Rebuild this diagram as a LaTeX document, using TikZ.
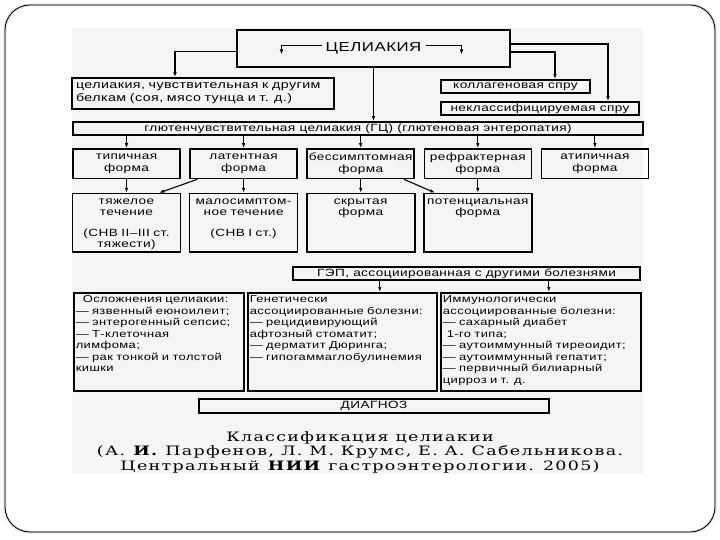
\documentclass[tikz,border=0pt]{standalone}
\usepackage{fontspec}
\setmainfont{Liberation Sans}[FakeStretch=1.3,LetterSpace=4]
\newfontfamily\capfont{DejaVu Serif}[FakeStretch=1.35,LetterSpace=10]
\usetikzlibrary{arrows.meta,positioning}

\begin{document}
\begin{tikzpicture}[x=1bp,y=-1bp,node distance=8.5bp,
  box/.style={draw,line width=1.6bp,align=center,inner sep=1bp,font=\fontsize{10.5}{12}\selectfont},
  bar/.style={box,inner sep=0pt,minimum height=13bp},
  form/.style={box,text width=105bp,minimum height=29.5bp},
  deep/.style={box,text width=105bp,text height=9bp,text depth=46.5bp,inner sep=1.5bp,font=\fontsize{10.5}{11.5}\selectfont},
  list/.style={box,align=left,anchor=north west,inner sep=2bp,text height=8bp,text depth=86bp,font=\fontsize{10}{11.5}\selectfont},
  flow/.style={-{Latex[length=5bp,width=3.5bp]},line width=1.1bp}]
\useasboundingbox (0,0) rectangle (720,540);
\fill[black!4] (72,28) rectangle (643,474);
\draw[black!15,line width=2.5bp,rounded corners=25bp] (5,5) rectangle (715,532);
\draw[line width=0.8bp,rounded corners=25bp] (5,5) rectangle (715,532);
% upper level
\node[box,minimum width=273bp,minimum height=37bp,font=\fontsize{13}{15}\selectfont] (ciel) at (373.5,48.5) {ЦЕЛИАКИЯ};
\node[box,align=left,text width=254bp,inner xsep=4bp,minimum height=31bp,font=\fontsize{11}{13}\selectfont] (prot) at (203,93.5) {целиакия, чувствительная к другим\\белкам (соя, мясо тунца и т. д.)};
\node[bar,minimum width=149bp] (koll) at (515.5,86.5) {коллагеновая спру};
\node[bar,minimum width=198bp] (nekl) at (540,108.5) {неклассифицируемая спру};
\node[bar,minimum width=570bp] (gc) at (358,128.5) {глютенчувствительная целиакия (ГЦ) (глютеновая энтеропатия)};
% forms
\node[form] (tip) at (126.5,163.75) {типичная\\форма};
\node[form,right=of tip] (lat) {латентная\\форма};
\node[form,right=of lat] (bes) {бессимптомная\\форма};
\node[form,right=of bes] (ref) {рефрактерная\\форма};
\node[form,right=of ref] (atip) {атипичная\\форма};
\node[deep,below=13.5bp of tip] (tyaz) {тяжелое\\течение\\[9bp](СНВ II–III ст.\\тяжести)};
\node[deep,below=13.5bp of lat] (malo) {малосимптом-\\ное течение\\[9bp](СНВ I ст.)};
\node[deep,below=13.5bp of bes] (skr) {скрытая\\форма};
\node[deep,below=13.5bp of ref] (pot) {потенциальная\\форма};
% associated diseases
\node[bar,minimum width=347bp] (gep) at (466.5,273.5) {ГЭП, ассоциированная с другими болезнями};
\node[list,text width=166bp] (osl) at (73,292) {\hspace*{7bp}Осложнения целиакии:\\— язвенный еюноилеит;\\— энтерогенный сепсис;\\— Т-клеточная\\лимфома;\\— рак тонкой и толстой\\кишки};
\node[list,text width=185bp] (gen) at (247,292) {Генетически\\ассоциированные болезни:\\— рецидивирующий\\афтозный стоматит;\\— дерматит Дюринга;\\— гипогаммаглобулинемия};
\node[list,text width=196bp] (imm) at (440,292) {Иммунологически\\ассоциированные болезни:\\— сахарный диабет\\\hspace*{4bp}1-го типа;\\— аутоиммунный тиреоидит;\\— аутоиммунный гепатит;\\— первичный билиарный\\цирроз и т. д.};
\node[bar,minimum width=350bp,minimum height=14bp] (diag) at (374,406) {ДИАГНОЗ};
\node[align=center,font=\capfont\fontsize{13}{14.5}\selectfont] (capt) at (360,452) {Классификация целиакии\\(А. \textbf{И.} Парфенов, Л. М. Крумс, Е. А. Сабельникова.\\Центральный \textbf{НИИ} гастроэнтерологии. 2005)};
% connectors
\draw[flow] ([shift={(-52,-3)}]ciel.center) -| ([shift={(-92,6)}]ciel.center);
\draw[flow] ([shift={(52,-3)}]ciel.center) -| ([shift={(88,6)}]ciel.center);
\draw[flow] ([yshift=-3bp]ciel.west) -| ([xshift=-28bp]prot.north);
\draw[flow] ([yshift=-3.5bp]ciel.east) -| ([xshift=39.5bp]koll.north);
\draw[flow] ([yshift=4.5bp]ciel.east) -| ([xshift=68bp]nekl.north);
\draw[flow] (ciel.south) -- (ciel.south |- gc.north);
\foreach \n in {tip,lat,bes,ref,atip}
  \draw[flow] (\n.north |- gc.south) -- (\n.north);
\foreach \a/\b in {tip/tyaz,lat/malo,bes/skr,ref/pot}
  \draw[flow] (\a) -- (\b);
\draw[flow] ([xshift=8bp]lat.south west) -- ([xshift=-22bp]tyaz.north east);
\draw[flow] ([xshift=-11bp]bes.south east) -- ([xshift=12bp]pot.north west);
\coordinate (g1) at ([xshift=37.5bp]gen.north);
\coordinate (g2) at ([xshift=8bp]imm.north);
\foreach \c in {g1,g2}
  \draw[flow] (\c |- gep.south) -- (\c);
\end{tikzpicture}
\end{document}
